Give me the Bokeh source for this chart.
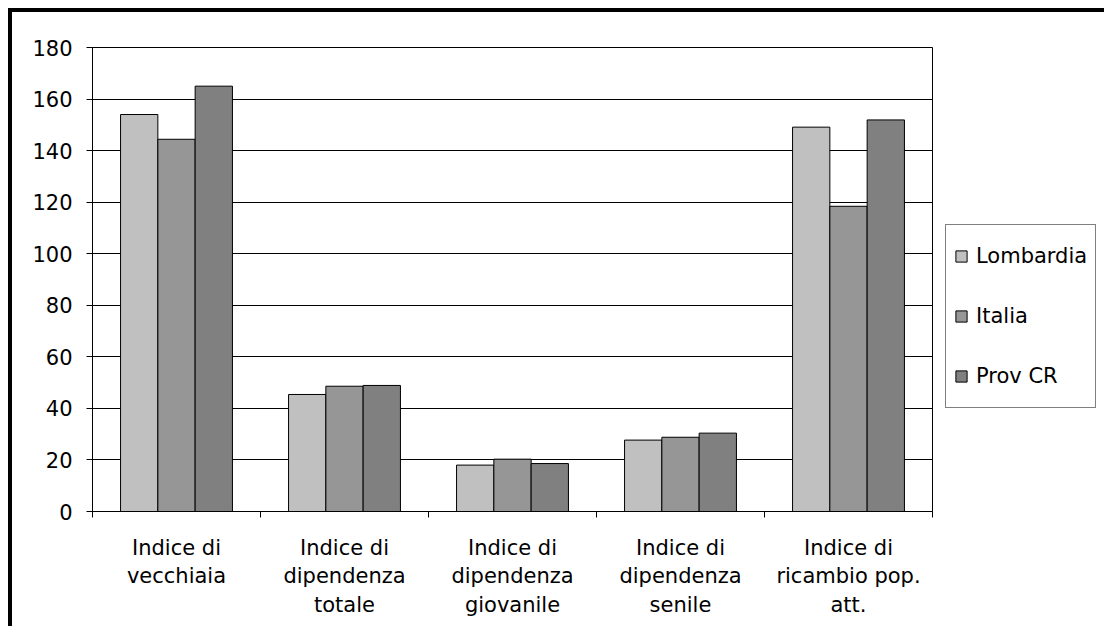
from bokeh.plotting import figure
from bokeh.models import Legend, LegendItem, FixedTicker, Range1d
from bokeh.transform import dodge
from bokeh.embed import file_html
from bokeh.resources import INLINE

categories = [
    "Indice di\nvecchiaia",
    "Indice di\ndipendenza\ntotale",
    "Indice di\ndipendenza\ngiovanile",
    "Indice di\ndipendenza\nsenile",
    "Indice di\nricambio pop.\natt.",
]
series = ["Lombardia", "Italia", "Prov CR"]
lombardia = [154.0, 45.4, 18.0, 27.7, 149.1]
italia = [144.4, 48.6, 20.3, 28.8, 118.4]
prov_cr = [165.0, 48.9, 18.6, 30.4, 151.9]
colors = ["#C0C0C0", "#969696", "#808080"]
y_ticks = [0, 20, 40, 60, 80, 100, 120, 140, 160, 180]

FONT = "DejaVu Sans"

# groups sit at the middle of unit slots, tick marks go between slots
centers = [i + 0.5 for i in range(len(categories))]
bounds = list(range(len(categories) + 1))

p = figure(x_range=Range1d(0, len(categories)), y_range=Range1d(0, 180),
           frame_width=840, frame_height=464,
           output_backend="svg", toolbar_location=None,
           min_border_left=80, min_border_top=35, min_border_right=0, min_border_bottom=115,
           styles={"border-left": "4px solid black", "border-top": "4px solid black",
                   "margin-left": "8px", "margin-top": "8px"})

data = {"pos": centers, "Lombardia": lombardia, "Italia": italia, "Prov CR": prov_cr}
bw = 0.222
items = []
for i, (name, col) in enumerate(zip(series, colors)):
    r = p.vbar(x=dodge("pos", (i - 1) * bw), top=name, width=bw,
               source=data, fill_color=col, line_color="black", line_width=1)
    items.append(LegendItem(label=name, renderers=[r]))

legend = Legend(items=items, location=(13, 103), orientation="vertical",
                label_text_font=FONT, label_text_font_size="21px",
                label_text_color="black",
                glyph_width=14, glyph_height=14, label_height=46,
                spacing=14, padding=8, margin=0, label_standoff=8,
                border_line_color="black", border_line_width=1,
                background_fill_alpha=1.0)
p.add_layout(legend, "right")

p.xaxis.ticker = FixedTicker(ticks=centers, minor_ticks=bounds)
p.xaxis.major_label_overrides = {c: lab for c, lab in zip(centers, categories)}
p.xaxis.major_tick_line_color = None
p.xaxis.major_tick_in = 0
p.xaxis.major_tick_out = 0
p.xaxis.minor_tick_in = 0
p.xaxis.minor_tick_out = 6
p.xaxis.minor_tick_line_color = "black"
p.xaxis.major_label_standoff = 18
p.xaxis.major_label_text_line_height = 1.2

p.yaxis.ticker = FixedTicker(ticks=y_ticks)
p.yaxis.minor_tick_line_color = None
p.yaxis.major_tick_in = 0
p.yaxis.major_tick_out = 6
p.yaxis.major_label_standoff = 14

for ax in (p.xaxis, p.yaxis):
    ax.axis_line_color = "black"
    ax.major_label_text_font = FONT
    ax.major_label_text_font_size = "21px"
    ax.major_label_text_color = "black"
p.yaxis.major_tick_line_color = "black"

p.xgrid.grid_line_color = None
p.ygrid.grid_line_color = "black"
p.ygrid.grid_line_width = 1

p.outline_line_color = "black"
p.outline_line_width = 1
p.background_fill_color = "white"
p.border_fill_color = "white"

open("out.html", "w").write(file_html(p, INLINE))
